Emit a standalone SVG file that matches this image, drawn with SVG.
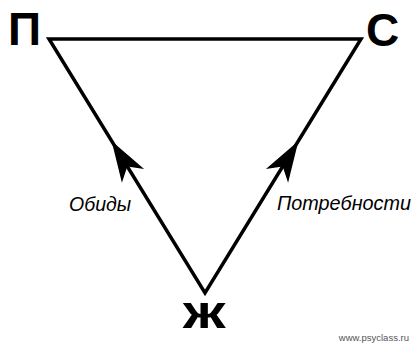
<svg xmlns="http://www.w3.org/2000/svg" width="411" height="344" viewBox="0 0 411 344">
<style>
.vtx{font-family:"Liberation Sans",Arial,sans-serif;font-weight:bold;font-size:46px;fill:#000}
.lbl{font-family:"Liberation Sans",Arial,sans-serif;font-style:italic;fill:#000}
.edge{fill:none;stroke:#000;stroke-width:3.5;stroke-linejoin:miter;stroke-miterlimit:10}
.head{fill:#000;stroke:none}
.wm{font-family:"Liberation Sans",Arial,sans-serif;font-size:9.5px;fill:#555}
</style>
<rect width="411" height="344" fill="#fff"/>
<g id="connectors">
<path class="edge" d="M49,39 L361,39 L205,293 Z"/>
<polygon class="head" points="111.6,141 144.1,169.1 127.3,166.6 121.9,182.7"/>
<polygon class="head" points="298.4,141 288.1,182.7 282.7,166.6 265.9,169.1"/>
</g>
<g id="node-P"><text class="vtx" x="8" y="45">П</text></g>
<g id="node-S"><text class="vtx" x="366" y="46">С</text></g>
<g id="node-Zh"><text class="vtx" transform="translate(183,328) scale(1.3,1)" x="0" y="0">ж</text></g>
<g id="label-obidy"><text class="lbl" x="69" y="211" font-size="19.5">Обиды</text></g>
<g id="label-potrebnosti"><text class="lbl" x="277" y="210" font-size="19.8">Потребности</text></g>
<text class="wm" x="409" y="341" text-anchor="end">www.psyclass.ru</text>
</svg>
